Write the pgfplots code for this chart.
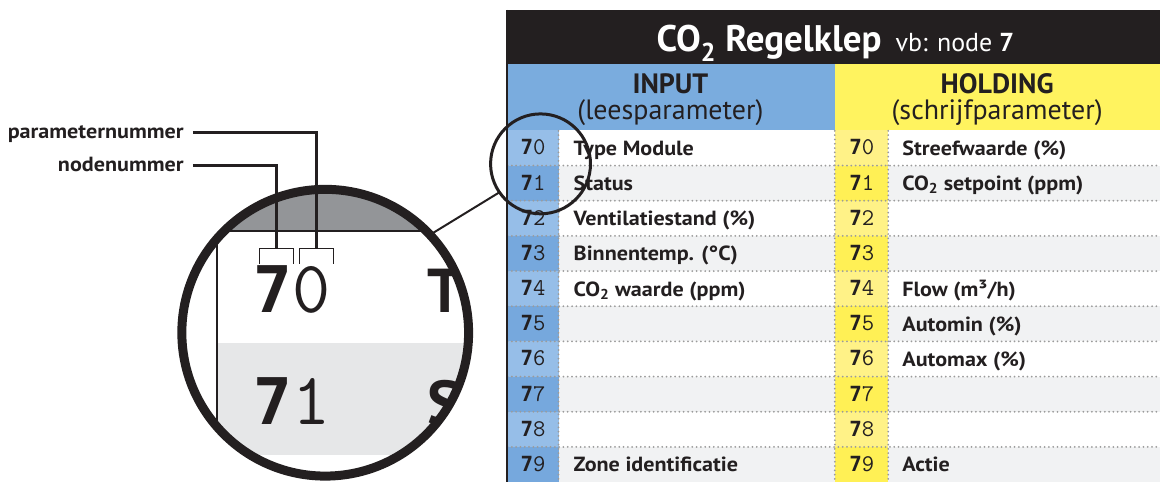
\documentclass[border=0pt]{standalone}
\usepackage{pgfplots}
\pgfplotsset{compat=1.18}
\usepackage{fontspec}
\setmainfont{PT Sans}
\newfontfamily\labf[FakeStretch=1.08]{PT Sans}
\newfontfamily\sevenf[Scale=0.87]{DejaVu Sans Mono}
\definecolor{blackhdr}{RGB}{35,31,32}
\definecolor{bluehdr}{RGB}{122,172,222}
\definecolor{bluelight}{RGB}{150,190,232}
\definecolor{bluedark}{RGB}{118,168,221}
\definecolor{yellowhdr}{RGB}{255,243,95}
\definecolor{yellowlight}{RGB}{255,242,135}
\definecolor{yellowdark}{RGB}{255,240,85}
\definecolor{rowgray}{RGB}{241,242,243}
\definecolor{dotgray}{RGB}{155,155,155}
\definecolor{circgray}{RGB}{147,149,152}
\definecolor{circlight}{RGB}{230,231,232}
\definecolor{dark}{RGB}{35,31,32}
\newcommand{\lab}[1]{{\labf\fontsize{20.5}{22}\selectfont\bfseries #1}}
\newcommand{\num}[1]{{\fontsize{24}{26}\selectfont{\sevenf\bfseries 7}\ttfamily #1}}
\begin{document}
\begin{tikzpicture}
\begin{axis}[x=1pt,y=1pt,xmin=0,xmax=1161,ymin=0,ymax=482,y dir=reverse,
  hide axis,scale only axis,clip=false]
\path (axis cs:0,0) rectangle (axis cs:1161,482);
% header
\fill[blackhdr] (axis cs:507,10) rectangle (axis cs:1161,64);
\fill[bluehdr] (axis cs:507,64) rectangle (axis cs:835.5,130.5);
\fill[yellowhdr] (axis cs:835.5,64) rectangle (axis cs:1161,130.5);
\node[anchor=base,text=white,inner sep=0] at (axis cs:836,52)
  {{\fontsize{37}{40}\selectfont\bfseries CO\textsubscript{2} Regelklep}\hspace{14pt}{\fontsize{26}{28}\selectfont vb: node \textbf{7}}};
\node[anchor=base,text=dark,inner sep=0] at (axis cs:671,94) {\fontsize{28}{30}\selectfont\bfseries INPUT};
\node[anchor=base,text=dark,inner sep=0] at (axis cs:671,119.5) {\fontsize{28}{30}\selectfont (leesparameter)};
\node[anchor=base,text=dark,inner sep=0] at (axis cs:998,94) {\fontsize{28}{30}\selectfont\bfseries HOLDING};
\node[anchor=base,text=dark,inner sep=0] at (axis cs:998,119.5) {\fontsize{28}{30}\selectfont (schrijfparameter)};
% rows
\pgfplotsinvokeforeach{0,2,4,6,8}{
  \fill[bluelight] (axis cs:507,{130.5+35.2*#1}) rectangle (axis cs:559,{130.5+35.2*(#1+1)});
  \fill[yellowlight] (axis cs:835.5,{130.5+35.2*#1}) rectangle (axis cs:889,{130.5+35.2*(#1+1)});
}
\pgfplotsinvokeforeach{1,3,5,7,9}{
  \fill[bluedark] (axis cs:507,{130.5+35.2*#1}) rectangle (axis cs:559,{min(482,130.5+35.2*(#1+1))});
  \fill[yellowdark] (axis cs:835.5,{130.5+35.2*#1}) rectangle (axis cs:889,{min(482,130.5+35.2*(#1+1))});
  \fill[rowgray] (axis cs:559,{130.5+35.2*#1}) rectangle (axis cs:835.5,{min(482,130.5+35.2*(#1+1))});
  \fill[rowgray] (axis cs:889,{130.5+35.2*#1}) rectangle (axis cs:1161,{min(482,130.5+35.2*(#1+1))});
}
\pgfplotsinvokeforeach{1,...,9}{
  \draw[dotgray,line width=2pt,line cap=round,dash pattern=on 0pt off 4.3pt]
    (axis cs:508,{130.5+35.2*#1}) -- (axis cs:1161,{130.5+35.2*#1});
}
\pgfplotsinvokeforeach{559,835.5,889}{
  \draw[dotgray,line width=2pt,line cap=round,dash pattern=on 0pt off 4.3pt]
    (axis cs:#1,131) -- (axis cs:#1,482);
}
\draw[dark,line width=1.5pt] (axis cs:507.5,10) -- (axis cs:507.5,482);
\pgfplotsinvokeforeach{0,...,9}{
  \node[anchor=base,inner sep=0,text=dark] at (axis cs:533.5,{130.5+35.2*#1+24.5}) {\num{#1}};
  \node[anchor=base,inner sep=0,text=dark] at (axis cs:862.5,{130.5+35.2*#1+24.5}) {\num{#1}};
}
\node[anchor=base west,inner sep=0,text=dark] at (axis cs:574,155.5) {\lab{Type Module}};
\node[anchor=base west,inner sep=0,text=dark] at (axis cs:574,190.7) {\lab{Status}};
\node[anchor=base west,inner sep=0,text=dark] at (axis cs:574,225.9) {\lab{Ventilatiestand (\%)}};
\node[anchor=base west,inner sep=0,text=dark] at (axis cs:574,261.1) {\lab{Binnentemp. (°C)}};
\node[anchor=base west,inner sep=0,text=dark] at (axis cs:574,296.3) {\lab{CO\textsubscript{2} waarde (ppm)}};
\node[anchor=base west,inner sep=0,text=dark] at (axis cs:574,472.3) {\lab{Zone identificatie}};
\node[anchor=base west,inner sep=0,text=dark] at (axis cs:903,155.5) {\lab{Streefwaarde (\%)}};
\node[anchor=base west,inner sep=0,text=dark] at (axis cs:903,190.7) {\lab{CO\textsubscript{2} setpoint (ppm)}};
\node[anchor=base west,inner sep=0,text=dark] at (axis cs:903,296.3) {\lab{Flow (m³/h)}};
\node[anchor=base west,inner sep=0,text=dark] at (axis cs:903,331.5) {\lab{Automin (\%)}};
\node[anchor=base west,inner sep=0,text=dark] at (axis cs:903,366.7) {\lab{Automax (\%)}};
\node[anchor=base west,inner sep=0,text=dark] at (axis cs:903,472.3) {\lab{Actie}};
% small circle and connector
\draw[dark,line width=3pt] (axis cs:541,164) circle[radius=50pt];
\draw[dark,line width=2pt] (axis cs:432,234) -- (axis cs:499,193);
% big magnified circle
\begin{scope}
\clip (axis cs:325.5,333) circle[radius=143.5pt];
\fill[white] (axis cs:170,180) rectangle (axis cs:480,482);
\fill[circgray] (axis cs:170,180) rectangle (axis cs:480,231);
\fill[circlight] (axis cs:217,343) rectangle (axis cs:480,455);
\draw[dark,line width=1.5pt] (axis cs:170,231) -- (axis cs:480,231);
\draw[dark,line width=1.5pt] (axis cs:217,231) -- (axis cs:217,482);
\node[anchor=base west,inner sep=0,text=dark] at (axis cs:254,313) {\fontsize{74}{78}\selectfont{\sevenf\bfseries 7}\ttfamily 0};
\node[anchor=base west,inner sep=0,text=dark] at (axis cs:254,425) {\fontsize{74}{78}\selectfont{\sevenf\bfseries 7}\ttfamily 1};
\node[anchor=base west,inner sep=0,text=dark] at (axis cs:428,313) {\fontsize{62}{66}\selectfont\bfseries T};
\node[anchor=base west,inner sep=0,text=dark] at (axis cs:428,425) {\fontsize{62}{66}\selectfont\bfseries S};
\end{scope}
\draw[dark,line width=9pt] (axis cs:325.5,333) circle[radius=143.5pt];
% brackets and leaders
\draw[dark,line width=1.3pt] (axis cs:259.5,264) -- (axis cs:259.5,249) -- (axis cs:293.5,249) -- (axis cs:293.5,264);
\draw[dark,line width=1.3pt] (axis cs:300,264) -- (axis cs:300,249) -- (axis cs:334,249) -- (axis cs:334,264);
\draw[dark,line width=3pt] (axis cs:193,166) -- (axis cs:277,166) -- (axis cs:277,249);
\draw[dark,line width=3pt] (axis cs:193,132.5) -- (axis cs:317,132.5) -- (axis cs:317,249);
\node[anchor=base east,inner sep=0,text=dark] at (axis cs:184,138.5) {\lab{parameternummer}};
\node[anchor=base east,inner sep=0,text=dark] at (axis cs:184,172) {\lab{nodenummer}};
\end{axis}
\end{tikzpicture}
\end{document}
